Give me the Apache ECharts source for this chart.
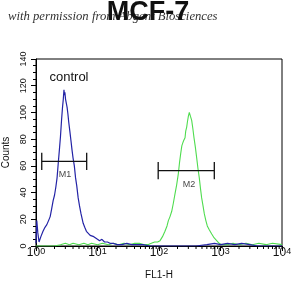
<!DOCTYPE html>
<html>
<head>
<meta charset="utf-8">
<script src="https://cdn.jsdelivr.net/npm/echarts@6/dist/echarts.min.js"></script>
<style>
html,body{margin:0;padding:0;background:#fff;}
#c{width:305px;height:296px;}
</style>
</head>
<body>
<div id="c"></div>
<script>
// ---- data ----
var titleText = 'MCF-7';
var watermarkText = 'with permission from Abgent Biosciences';
var xName = 'FL1-H';
var yName = 'Counts';
var sampleLabel = 'control';
var xMajorTicks = [1, 10, 100, 1000, 10000];
var xMinorTicks = [2,3,4,5,6,7,8,9,20,30,40,50,60,70,80,90,200,300,400,500,600,700,800,900,2000,3000,4000,5000,6000,7000,8000,9000];

var controlX = [1.0,1.03,1.07,1.12,1.2,1.3,1.4,1.5,1.6,1.7,1.8,1.9,2.0,2.1,2.2,2.3,2.4,2.5,2.6,2.7,2.78,2.85,2.9,2.95,3.02,3.1,3.2,3.3,3.4,3.55,3.7,3.85,4.0,4.2,4.4,4.6,4.85,5.1,5.4,5.6,5.85,6.2,6.6,7.1,7.6,8.1,8.7,9.3,10,10.8,11.8,13,14.5,16,18,21,25,30,36,45,55,70,100,200,400,600,800,1000,1300,1700,2200,3000,4000,10000];
var controlY = [2,19,10,3,7,11,14,16,19,22,28,34,38,44,51,62,72,82,94,104,110,117,113,115,110,111,104,99,93,86,79,72,66,60,51,45,36,30,24,23,17,14,11,10,8,7,7,6,5,4,5,3,3,2,2,1,1,2,1,1,1,0,0,0,0,1,2,1,2,1,2,1,0,0];

var sampleX = [1,2,2.5,3,3.5,4,5,6,7,8,10,12,15,18,22,27,33,40,48,58,66,75,85,95,104,114,125,135,142,151,161,171,182,194,206,215,225,235,243,252,265,272,282,290,300,311,325,340,355,371,390,410,430,452,473,494,520,546,578,610,660,720,790,867,950,1047,1300,1600,2000,2600,3300,4200,5500,7000,10000];
var sampleY = [0,0,1,2,1,2,1,2,1,2,1,2,1,2,1,2,1,2,2,1,1,2,3,3,4,7,11,15,19,22,26,32,39,46,54,62,69,75,77,79,81,86,89,93,97,100,97,94,88,81,74,66,58,51,43,36,30,24,19,15,12,9,6,4,2,1,1,2,1,2,1,2,1,2,1];

var m1Range = [1.24, 6.67], m1Level = 63.4, m1Label = 'M1', m1LabelPos = [2.96, 53.4];
var m2Range = [97, 793], m2Level = 56.4, m2Label = 'M2', m2LabelPos = [307, 45.9];
var markerHalf = 6.5;

function zip(a, b){ return a.map(function(v,i){ return [v, b[i]]; }); }
function marker(r, lvl){
  return [[r[0], lvl - markerHalf],[r[0], lvl + markerHalf],null,[r[0], lvl],[r[1], lvl],null,[r[1], lvl - markerHalf],[r[1], lvl + markerHalf]];
}
var supers = {1:'0',10:'1',100:'2',1000:'3',10000:'4'};

var chart = echarts.init(document.getElementById('c'), null, {renderer:'canvas'});
chart.setOption({
  animation: false,
  backgroundColor: '#fff',
  grid: {left: 36, right: 23, top: 59, bottom: 50, show: true, borderColor: '#000', borderWidth: 1,
         backgroundColor: 'transparent', containLabel: false, outerBoundsMode: 'none'},
  graphic: [
    {type:'text', left: 8, top: 10, z: 1, style:{text: watermarkText, font: 'italic 12.7px "Liberation Serif"', fill:'#333'}},
    {type:'text', x: 148, y: 13, z: 10, style:{text: titleText, font: 'bold 27px "Liberation Sans"', fill:'#111', align:'center', verticalAlign:'middle'}},
    {type:'text', x: 69, y: 77, z: 10, style:{text: sampleLabel, font: '13px "Liberation Sans"', fill:'#111', align:'center', verticalAlign:'middle'}}
  ],
  xAxis: {
    type: 'log', logBase: 10, min: 1, max: 10000,
    name: xName, nameLocation: 'middle', nameGap: 19,
    nameTextStyle: {fontFamily: 'Liberation Sans', fontSize: 10, color: '#111'},
    axisLine: {show: true, lineStyle: {color: '#000', width: 1}},
    axisTick: {show: true, length: 5, lineStyle: {color: '#000'}},
    splitLine: {show: false},
    axisLabel: {
      margin: 1, color: '#111', fontFamily: 'Liberation Sans',
      formatter: function(v){ var k = Math.round(v); return '{b|10}{s|' + (supers[k] !== undefined ? supers[k] : '') + '}'; },
      rich: {
        b: {fontSize: 12, fontFamily: 'Liberation Sans', color: '#111', verticalAlign: 'bottom', lineHeight: 12},
        s: {fontSize: 9, fontFamily: 'Liberation Sans', color: '#111', verticalAlign: 'top', lineHeight: 9, padding: [0, 0, 9, 0]}
      }
    }
  },
  yAxis: {
    type: 'value', min: 0, max: 140, interval: 20,
    name: yName, nameLocation: 'middle', nameGap: 19, nameRotate: 90,
    nameTextStyle: {fontFamily: 'Liberation Sans', fontSize: 10, color: '#111'},
    axisLine: {show: true, lineStyle: {color: '#000', width: 1}},
    axisTick: {show: true, length: 5, lineStyle: {color: '#000'}},
    minorTick: {show: true, splitNumber: 4, length: 3, lineStyle: {color: '#000'}},
    splitLine: {show: false},
    axisLabel: {rotate: 90, margin: 8, fontSize: 9, fontFamily: 'Liberation Sans', color: '#111'}
  },
  series: [
    {type: 'custom', name: 'minorX', silent: true, clip: false, z: 5,
      data: xMinorTicks.map(function(v){ return [v, 0]; }),
      encode: {x: 0, y: 1},
      renderItem: function(params, api){
        var p = api.coord([api.value(0), 0]);
        return {type: 'line', shape: {x1: p[0], y1: p[1], x2: p[0], y2: p[1] + 3}, style: {stroke: '#000', lineWidth: 1}};
      }
    },
    {type: 'line', name: 'sample', data: zip(sampleX, sampleY), showSymbol: false, symbol: 'none',
      lineStyle: {color: '#4fdc4f', width: 1.1}, z: 3},
    {type: 'line', name: 'control', data: zip(controlX, controlY), showSymbol: false, symbol: 'none',
      lineStyle: {color: '#2323a6', width: 1.2}, z: 4},
    {type: 'line', name: 'M1', data: marker(m1Range, m1Level), showSymbol: false, symbol: 'none', connectNulls: false,
      lineStyle: {color: '#111', width: 1.3}, z: 6},
    {type: 'line', name: 'M2', data: marker(m2Range, m2Level), showSymbol: false, symbol: 'none', connectNulls: false,
      lineStyle: {color: '#111', width: 1.3}, z: 6},
    {type: 'scatter', name: 'labels', symbolSize: 0, z: 7,
      data: [{value: m1LabelPos, name: m1Label}, {value: m2LabelPos, name: m2Label}],
      label: {show: true, position: 'inside', formatter: '{b}', fontSize: 9, fontFamily: 'Liberation Sans', color: '#111'}
    }
  ]
});
</script>
</body>
</html>
